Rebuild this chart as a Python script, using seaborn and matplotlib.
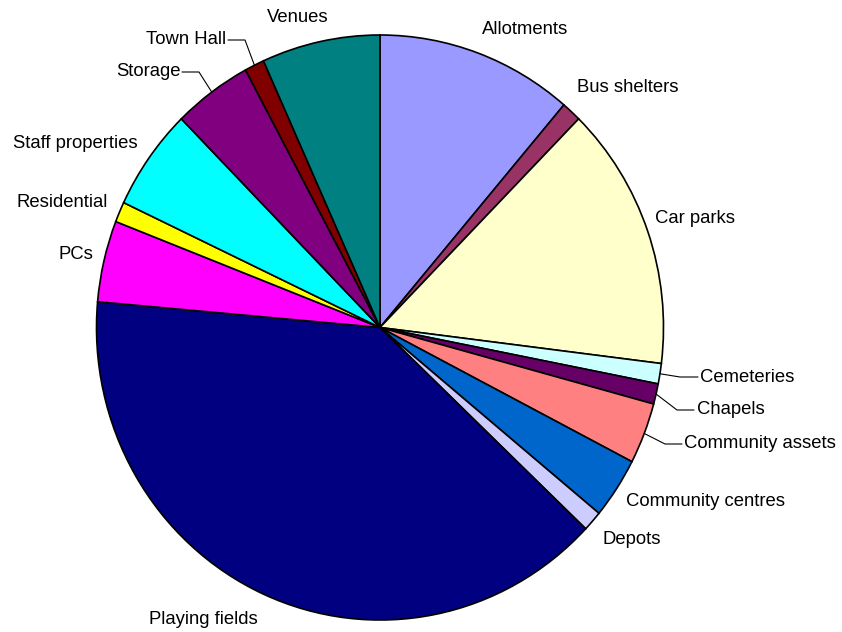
import numpy as np
import matplotlib
matplotlib.use("Agg")
import matplotlib.pyplot as plt
from matplotlib.lines import Line2D
import seaborn as sns

# ---- data ----
categories = ["Allotments", "Bus shelters", "Car parks", "Cemeteries", "Chapels",
              "Community assets", "Community centres", "Depots", "Playing fields",
              "PCs", "Residential", "Staff properties", "Storage", "Town Hall", "Venues"]
values = [10, 1, 13, 1, 1, 3, 3, 1, 35, 4, 1, 5, 4, 1, 6]
colors = ["#9999FF", "#993366", "#FFFFCC", "#CCFFFF", "#660066", "#FF8080", "#0066CC",
          "#CCCCFF", "#000080", "#FF00FF", "#FFFF00", "#00FFFF", "#800080", "#800000",
          "#008080"]

# ---- layout (pixels, top-left origin) ----
W, H = 842, 632
label_layout = {
    "Allotments": (525, 29, "center"),
    "Bus shelters": (628, 88, "center"),
    "Car parks": (695, 218, "center"),
    "Cemeteries": (700, 377, "left"),
    "Chapels": (697, 410, "left"),
    "Community assets": (684, 443, "left"),
    "Community centres": (626, 501, "left"),
    "Depots": (602, 540, "left"),
    "Playing fields": (203.5, 619, "center"),
    "PCs": (93, 255, "right"),
    "Residential": (108, 203, "right"),
    "Staff properties": (138, 143, "right"),
    "Storage": (181, 72, "right"),
    "Town Hall": (226, 39, "right"),
    "Venues": (298, 17, "center"),
}
leaders = {
    "Cemeteries": [(680, 377), (698, 377)],
    "Chapels": [(677, 410), (694, 410)],
    "Community assets": [(665, 444), (682, 444)],
    "Storage": [(199, 72), (182, 72)],
    "Town Hall": [(245, 40), (228, 40)],
}

sns.set_style("white")
plt.rcParams["font.family"] = ["Liberation Sans", "DejaVu Sans"]

fig = plt.figure(figsize=(W / 100, H / 100), dpi=100)
cx0, cx1, cy0, cy1 = 96.5, 663.5, 35, 620
ax = fig.add_axes([cx0 / W, 1 - cy1 / H, (cx1 - cx0) / W, (cy1 - cy0) / H])
wedges, _ = ax.pie(values, colors=colors, startangle=90, counterclock=False,
                   wedgeprops=dict(edgecolor="black", linewidth=1.2))
ax.set_aspect("auto")
ax.set_xlim(-1, 1)
ax.set_ylim(-1, 1)
ax.axis("off")


def px2fig(x, y):
    return x / W, 1 - y / H


for lab, w in zip(categories, wedges):
    x, y, ha = label_layout[lab]
    fx, fy = px2fig(x, y)
    fig.text(fx, fy, lab, ha=ha, va="center", fontsize=13.3, color="black")
    if lab in leaders:
        tm = np.deg2rad((w.theta1 + w.theta2) / 2)
        disp = ax.transData.transform((np.cos(tm), np.sin(tm)))
        p0 = fig.transFigure.inverted().transform(disp)
        pts = [tuple(p0)] + [px2fig(*p) for p in leaders[lab]]
        xs = [p[0] for p in pts]
        ys = [p[1] for p in pts]
        fig.add_artist(Line2D(xs, ys, transform=fig.transFigure, color="black",
                              linewidth=0.8))

fig.savefig("out.png", dpi=100)
